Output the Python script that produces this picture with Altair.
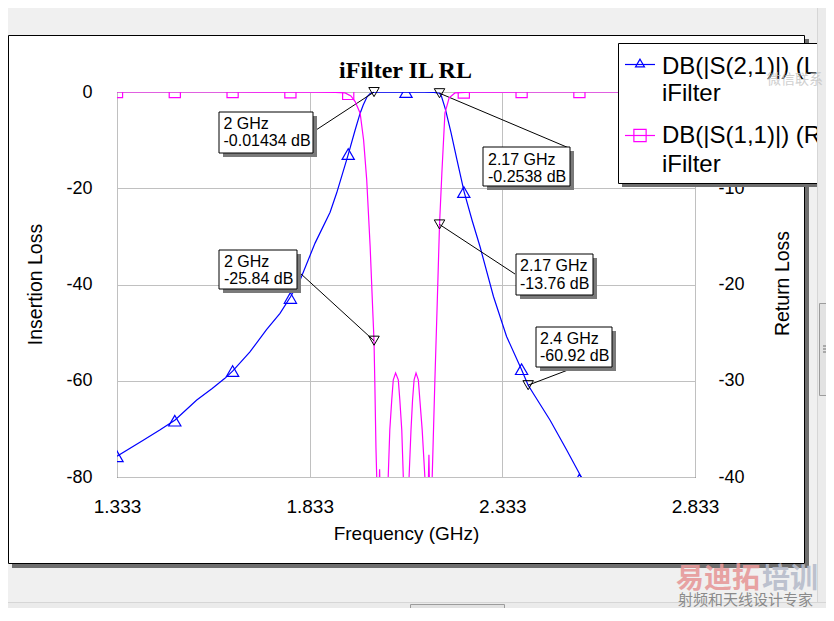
import altair as alt
import pandas as pd

# ---------------- data ----------------
s21_freq = [1.333, 1.40, 1.445, 1.483, 1.540, 1.580, 1.613, 1.633, 1.678, 1.721, 1.756,
            1.783, 1.808, 1.847, 1.886, 1.903, 1.933, 1.951, 1.964, 1.972, 1.982, 1.990,
            2.000, 2.030, 2.083, 2.130, 2.155, 2.170, 2.175, 2.185, 2.200, 2.215, 2.234,
            2.255, 2.275, 2.310, 2.344, 2.383, 2.400, 2.413, 2.457, 2.500, 2.535, 2.560,
            2.600, 2.700, 2.833]
s21_db = [-75.7, -72.4, -70.2, -68.2, -64.0, -61.6, -59.5, -58.0, -54.0, -49.4, -46.0,
          -42.6, -39.1, -31.4, -25.0, -21.0, -13.0, -7.9, -4.4, -2.7, -1.0, -0.3,
          -0.01434, -0.01, -0.02, -0.03, -0.08, -0.2538, -0.9, -3.5, -8.5, -14.0, -20.8,
          -26.8, -32.1, -42.5, -50.8, -57.7, -60.92, -62.6, -68.2, -74.4, -79.6, -83.0,
          -88.0, -100.0, -112.0]

s11_freq = [1.333, 1.600, 1.850, 1.900, 1.925, 1.940, 1.951, 1.964, 1.973, 1.981, 1.990,
            1.997, 2.000, 2.002, 2.005, 2.008, 2.011, 2.0145, 2.018, 2.027, 2.036, 2.041,
            2.046, 2.050, 2.056, 2.063, 2.067, 2.072, 2.076, 2.083, 2.091, 2.096, 2.100,
            2.104, 2.109, 2.115, 2.119, 2.125, 2.132, 2.137, 2.1425, 2.147, 2.151, 2.158,
            2.164, 2.170, 2.176, 2.184, 2.195, 2.210, 2.250, 2.400, 2.833]
s11_db = [0.0, 0.0, -0.01, -0.03, -0.1, -0.4, -1.0, -2.2, -5.0, -9.1, -16.1,
          -23.0, -25.84, -30.0, -36.9, -41.5, -46.0, -39.2, -46.0, -55.0, -41.0, -35.1,
          -32.0, -29.9, -29.2, -29.9, -32.0, -35.1, -40.0, -52.0, -40.0, -35.1, -32.0,
          -29.9, -29.2, -29.9, -32.0, -35.1, -40.0, -48.0, -37.7, -48.0, -40.0, -29.9,
          -22.0, -13.76, -8.5, -2.2, -0.6, -0.1, -0.02, 0.0, 0.0]

marker_freq = [1.333, 1.483, 1.633, 1.783, 1.933, 2.083, 2.233, 2.383, 2.533, 2.683, 2.833]
s21_marker_db = [-75.7, -68.3, -58.0, -42.8, -12.9, -0.02, -20.8, -57.6, -80.5, -104.0, -112.0]
s11_marker_db = [0.0, 0.0, 0.0, -0.02, -0.2, -52.0, -0.05, 0.0, 0.0, 0.0, 0.0]

il_ann_freq = [2.0, 2.17, 2.4]
il_ann_db = [-0.01434, -0.2538, -60.92]
rl_ann_freq = [2.0, 2.17]
rl_ann_db = [-25.84, -13.76]

x_ticks = [1.333, 1.833, 2.333, 2.833]
il_ticks = [-80, -60, -40, -20, 0]
rl_ticks = [-40, -30, -20, -10, 0]

title_text = "iFilter IL RL"
x_title = "Frequency (GHz)"
il_title = "Insertion Loss"
rl_title = "Return Loss"
legend_names = ["DB(|S(2,1)|) (L)", "DB(|S(1,1)|) (R)"]
legend_sub = "iFilter"
wm_main = ["易迪拓", "培训"]
wm_sub = "射频和天线设计专家"
wm_qr = "微信联系"

# ---------------- layout / style ----------------
W, H = 578, 385
OX, OY = 117, 92          # page position of plot-area origin
FONT = "Liberation Sans"
BLUE, MAG = "#0000ff", "#ff00ff"


def lx(px):
    return px - OX


def ly(py):
    return py - OY


xscale = alt.Scale(domain=[1.333, 2.833], nice=False, zero=False)
xaxis = alt.Axis(values=x_ticks, labelExpr="format(datum.value, '.3f')", grid=True,
                 gridColor="#c0c0c0", ticks=False,
                 domain=False, labelFontSize=19, labelFont=FONT, labelPadding=20,
                 labelFlush=False, labelColor="black", title=x_title, titleFont=FONT,
                 titleFontSize=19, titleFontWeight="normal", titleColor="black",
                 titleX=289, titleY=56, titleBaseline="middle")
X = alt.X("f:Q", scale=xscale, axis=xaxis)

lscale = alt.Scale(domain=[-80, 0], nice=False, zero=False)
laxis = alt.Axis(orient="left", values=il_ticks, labelExpr="'' + datum.value", grid=True,
                 gridColor="#c0c0c0", ticks=False,
                 domain=False, labelFontSize=18, labelFont=FONT, labelPadding=25,
                 labelColor="black", title=il_title, titleFont=FONT, titleFontSize=19.5,
                 titleFontWeight="normal", titleColor="black", titleAngle=270,
                 titleX=-82, titleY=192, titleAlign="center", titleBaseline="middle")
YL = alt.Y("db:Q", scale=lscale, axis=laxis)

rscale = alt.Scale(domain=[-40, 0], nice=False, zero=False)
raxis = alt.Axis(orient="right", values=rl_ticks, labelExpr="'' + datum.value", grid=False,
                 ticks=False, domain=False,
                 labelFontSize=18, labelFont=FONT, labelPadding=23, labelAlign="left",
                 labelColor="black", title=rl_title, titleFont=FONT, titleFontSize=19.5,
                 titleFontWeight="normal", titleColor="black", titleAngle=270,
                 titleX=87, titleY=191, titleAlign="center", titleBaseline="middle")
YR = alt.Y("db:Q", scale=rscale, axis=raxis)

dummy = pd.DataFrame({"f": [0]})


def prect(x1, y1, x2, y2, fill, stroke=None, sw=1, opacity=1):
    kw = dict(fill=fill, opacity=opacity)
    if stroke:
        kw.update(stroke=stroke, strokeWidth=sw)
    return alt.Chart(dummy).mark_rect(**kw).encode(
        x=alt.value(lx(x1)), x2=alt.value(lx(x2)), y=alt.value(ly(y1)), y2=alt.value(ly(y2)))


def ptext(px, py, s, size, color="black", weight="normal", font=FONT, align="left",
          baseline="alphabetic", opacity=1):
    return alt.Chart(dummy).mark_text(fontSize=size, font=font, color=color, fontWeight=weight,
                                      align=align, baseline=baseline, opacity=opacity).encode(
        x=alt.value(lx(px)), y=alt.value(ly(py)), text=alt.value(s))


def prule(x1, y1, x2, y2, color, sw=1):
    return alt.Chart(dummy).mark_rule(color=color, strokeWidth=sw).encode(
        x=alt.value(lx(x1)), x2=alt.value(lx(x2)), y=alt.value(ly(y1)), y2=alt.value(ly(y2)))


def annotation(f, db, Y, box, text_xy, leader_end):
    df = pd.DataFrame({"f": [f], "db": [db]})
    bx1, by1, bx2, by2 = box
    tx, ty1, ty2 = text_xy
    layers = [
        alt.Chart(df).mark_rule(color="black", strokeWidth=1).encode(
            x=X, y=Y, x2=alt.value(lx(leader_end[0])), y2=alt.value(ly(leader_end[1]))),
        alt.Chart(df).mark_point(shape="triangle-down", filled=False, color="black",
                                 size=110, strokeWidth=1, opacity=1).encode(x=X, y=Y),
        prect(bx1 + 4, by1 + 4, bx2 + 4, by2 + 4, "#7a7a7a"),
        prect(bx1, by1, bx2, by2, "white", "black", 1),
        ptext(tx, ty1, f"{f:g} GHz", 16),
        ptext(tx, ty2, f"{db:g} dB", 16),
    ]
    return layers


# ---------------- S21 (left axis) ----------------
s21_df = pd.DataFrame({"f": s21_freq, "db": s21_db})
s21m_df = pd.DataFrame({"f": marker_freq, "db": s21_marker_db})
left_layers = [
    alt.Chart(s21_df).mark_line(color=BLUE, strokeWidth=1.2, clip=True).encode(x=X, y=YL),
    alt.Chart(s21m_df).mark_point(shape="triangle-up", filled=False, color=BLUE, size=150,
                                  strokeWidth=1.2, opacity=1, clip=True).encode(x=X, y=YL),
]
il_boxes = [
    ((219, 112, 313, 153), (223.5, 129, 146), (316, 130)),
    ((483, 147, 570, 186), (488, 164.5, 182), (569, 148)),
    ((536, 327, 612, 367), (540, 343.5, 360.5), (568, 370)),
]
for f, db, (box, txt, le) in zip(il_ann_freq, il_ann_db, il_boxes):
    left_layers += annotation(f, db, YL, box, txt, le)

# ---------------- S11 (right axis) ----------------
s11_df = pd.DataFrame({"f": s11_freq, "db": s11_db})
s11m_df = pd.DataFrame({"f": marker_freq, "db": s11_marker_db})
right_layers = [
    alt.Chart(s11_df).mark_line(color=MAG, strokeWidth=1.2, clip=True).encode(x=X, y=YR),
    alt.Chart(s11m_df).mark_point(shape="square", filled=False, color=MAG, size=125,
                                  strokeWidth=1.2, opacity=1, clip=True).encode(x=X, y=YR),
]
rl_boxes = [
    ((219, 250, 297, 289), (224, 266.5, 283.5), (300, 273)),
    ((516, 254, 593, 295), (520, 271, 288.5), (515, 274)),
]
for f, db, (box, txt, le) in zip(rl_ann_freq, rl_ann_db, rl_boxes):
    right_layers += annotation(f, db, YR, box, txt, le)

# ---------------- title ----------------
right_layers.append(ptext(405.5, 78, title_text, 24, weight="bold", font="Liberation Serif",
                          align="center"))

# ---------------- window chrome ----------------
GRAY = "#f0f0f0"
right_layers += [
    prect(0, 0, 834, 35, GRAY),
    prect(805, 0, 834, 621, GRAY),
    prect(0, 564, 834, 621, GRAY),
    prect(805, 39, 809, 568, "#6e6e6e"),
    prect(12, 564, 809, 568, "#6e6e6e"),
    prect(8.5, 35.5, 804.5, 563.5, "transparent", "black", 1),
]

# ---------------- legend ----------------
right_layers += [
    prect(622, 47, 834, 187, "#6e6e6e"),
    prect(618.5, 43.5, 834, 183.5, "white", "black", 1),
    prule(625, 64.5, 655, 64.5, BLUE, 1.2),
    alt.Chart(dummy).mark_point(shape="triangle-up", filled=False, color=BLUE, size=80,
                                strokeWidth=1.2, opacity=1).encode(
        x=alt.value(lx(640)), y=alt.value(ly(63))),
    ptext(662, 73.5, legend_names[0], 24),
    ptext(662, 100.5, legend_sub, 24),
    prule(625, 135.5, 655, 135.5, MAG, 1.2),
    alt.Chart(dummy).mark_point(shape="square", filled=False, color=MAG, size=150,
                                strokeWidth=1.2, opacity=1).encode(
        x=alt.value(lx(640)), y=alt.value(ly(135.5))),
    ptext(662, 143, legend_names[1], 24),
    ptext(662, 171.5, legend_sub, 24),
]

# ---------------- scrollbars & watermark ----------------
right_layers += [
    prect(817.5, 0, 834, 603, "#ebebeb", "#d6d6d6", 1),
    prect(819.5, 303.5, 832.5, 395.5, "#e2e2e2", "#9c9c9c", 1),
    prule(823, 346, 829, 346, "#707070"),
    prule(823, 349, 829, 349, "#707070"),
    prule(823, 352, 829, 352, "#707070"),
    prect(0, 602.5, 834, 621, "#ebebeb", "#d6d6d6", 1),
    prect(410.5, 604.5, 504.5, 619.5, "#e2e2e2", "#9c9c9c", 1),
    ptext(676, 588, wm_main[0], 28, color="#e79a9a", weight="bold",
          font="Noto Sans CJK SC", opacity=0.9),
    ptext(762, 588, wm_main[1], 28, color="#b7bccb", weight="bold",
          font="Noto Sans CJK SC", opacity=0.9),
    ptext(678, 605, wm_sub, 15, color="#8a8a8a", font="Noto Sans CJK SC"),
    ptext(767, 84, wm_qr, 14, color="#c4c4c4", font="Noto Sans CJK SC", opacity=0.8),
]

left = alt.layer(*left_layers)
right = alt.layer(*right_layers)

chart = alt.layer(left, right).resolve_scale(y="independent").properties(
    width=W, height=H,
    padding={"left": 109, "top": 84, "right": 131, "bottom": 131},
    autosize=alt.AutoSizeParams(type="none"),
    background="white",
).configure_view(stroke="black", strokeWidth=1)

chart.save("out.html", embed_options={"renderer": "svg", "actions": False})
